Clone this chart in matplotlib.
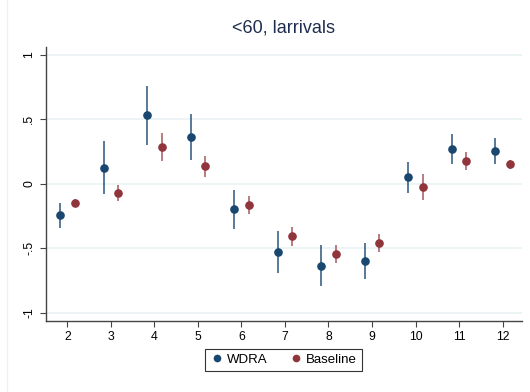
import matplotlib.pyplot as plt
from matplotlib.lines import Line2D
import numpy as np

plt.rcParams['font.family'] = ['Liberation Sans', 'DejaVu Sans']

# months on the x axis
months = [2, 3, 4, 5, 6, 7, 8, 9, 10, 11, 12]

# WDRA estimates and CI bounds
wdra = [-0.245, 0.124, 0.53, 0.364, -0.199, -0.53, -0.636, -0.602, 0.052, 0.269, 0.256]
wdra_hi = [-0.15, 0.328, 0.76, 0.543, -0.05, -0.37, -0.475, -0.463, 0.168, 0.385, 0.354]
wdra_lo = [-0.34, -0.08, 0.30, 0.186, -0.354, -0.69, -0.796, -0.742, -0.07, 0.152, 0.155]

# Baseline estimates and CI bounds
base = [-0.147, -0.075, 0.282, 0.134, -0.165, -0.408, -0.545, -0.457, -0.028, 0.176, 0.15]
base_hi = [-0.116, -0.013, 0.393, 0.217, -0.096, -0.339, -0.475, -0.39, 0.072, 0.245, 0.186]
base_lo = [-0.178, -0.134, 0.173, 0.054, -0.233, -0.48, -0.618, -0.527, -0.127, 0.103, 0.111]

yticks = [-1, -0.5, 0, 0.5, 1]
ylabels = ["-1", "-.5", "0", ".5", "1"]

navy = "#1a476f"
maroon = "#90353b"
off = 0.17

fig = plt.figure(figsize=(5.3, 3.92), dpi=100)
ax = fig.add_axes([0.0862, 0.182, 0.8981, 0.699])

x = np.array(months)
ax.vlines(x - off, wdra_lo, wdra_hi, color=navy, lw=1.2, alpha=0.85, zorder=2)
ax.vlines(x + off, base_lo, base_hi, color=maroon, lw=1.2, alpha=0.75, zorder=2)
ax.plot(x - off, wdra, 'o', color=navy, ms=5.2, zorder=3)
ax.plot(x + off, base, 'o', color=maroon, ms=5.2, zorder=3)

ax.set_xlim(1.5, 12.44)
ax.set_ylim(-1.062, 1.062)
ax.set_xticks(months)
ax.set_yticks(yticks)
ax.set_yticklabels(ylabels, rotation=90, va='center')
ax.tick_params(labelsize=8.8, length=4, width=0.8, color="#444444")
ax.grid(axis='y', color="#eaf2f3", lw=1.2)
ax.set_axisbelow(True)
for s in ['top', 'right']:
    ax.spines[s].set_visible(False)
for s in ['left', 'bottom']:
    ax.spines[s].set_color("#444444")
    ax.spines[s].set_linewidth(1.0)

ax.set_title("<60, larrivals", fontsize=13, color="#1e2d4f", pad=10)

handles = [Line2D([], [], marker='o', ls='', color=navy, ms=4.5, label="WDRA"),
           Line2D([], [], marker='o', ls='', color=maroon, ms=4.5, label="Baseline")]
leg = fig.legend(handles=handles, loc='center', bbox_to_anchor=(0.535, 0.082),
                 ncol=2, fontsize=9.5, frameon=True, fancybox=False,
                 handletextpad=0.3, columnspacing=1.6, handlelength=1.0,
                 borderpad=0.35, borderaxespad=0)
leg.get_frame().set_edgecolor("black")
leg.get_frame().set_linewidth(0.8)

# faint outer frame line of the graph region
fig.add_artist(Line2D([6.5 / 530, 6.5 / 530], [0, 1], color="#f0f0f0", lw=1))

fig.savefig("out.png", dpi=100)
